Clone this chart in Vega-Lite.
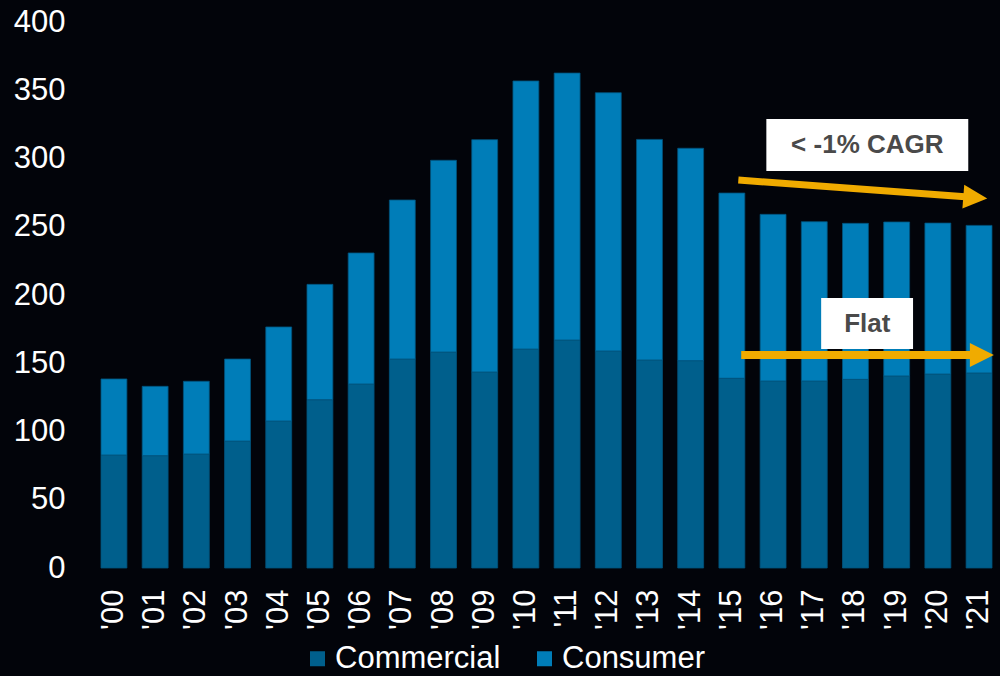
{
  "$schema": "https://vega.github.io/schema/vega-lite/v6.json",
  "width": 907,
  "height": 546,
  "autosize": "none",
  "padding": {"left": 93, "top": 22, "right": 0, "bottom": 108},
  "background": "#02040a",
  "config": {"view": {"stroke": null}, "font": "Liberation Sans"},
  "datasets": {
    "bars": [
      {"year": "'00", "type": "Commercial", "value": 82.8}, {"year": "'00", "type": "Consumer", "value": 55.7},
      {"year": "'01", "type": "Commercial", "value": 82.3}, {"year": "'01", "type": "Consumer", "value": 50.8},
      {"year": "'02", "type": "Commercial", "value": 83.5}, {"year": "'02", "type": "Consumer", "value": 53.3},
      {"year": "'03", "type": "Commercial", "value": 93.0}, {"year": "'03", "type": "Consumer", "value": 60.1},
      {"year": "'04", "type": "Commercial", "value": 107.7}, {"year": "'04", "type": "Consumer", "value": 68.9},
      {"year": "'05", "type": "Commercial", "value": 123.3}, {"year": "'05", "type": "Consumer", "value": 84.5},
      {"year": "'06", "type": "Commercial", "value": 134.8}, {"year": "'06", "type": "Consumer", "value": 96.0},
      {"year": "'07", "type": "Commercial", "value": 153.1}, {"year": "'07", "type": "Consumer", "value": 116.5},
      {"year": "'08", "type": "Commercial", "value": 158.2}, {"year": "'08", "type": "Consumer", "value": 140.5},
      {"year": "'09", "type": "Commercial", "value": 143.6}, {"year": "'09", "type": "Consumer", "value": 170.2},
      {"year": "'10", "type": "Commercial", "value": 160.4}, {"year": "'10", "type": "Consumer", "value": 196.4},
      {"year": "'11", "type": "Commercial", "value": 167.0}, {"year": "'11", "type": "Consumer", "value": 195.6},
      {"year": "'12", "type": "Commercial", "value": 159.0}, {"year": "'12", "type": "Consumer", "value": 189.2},
      {"year": "'13", "type": "Commercial", "value": 152.4}, {"year": "'13", "type": "Consumer", "value": 161.6},
      {"year": "'14", "type": "Commercial", "value": 151.9}, {"year": "'14", "type": "Consumer", "value": 155.6},
      {"year": "'15", "type": "Commercial", "value": 139.0}, {"year": "'15", "type": "Consumer", "value": 135.7},
      {"year": "'16", "type": "Commercial", "value": 137.0}, {"year": "'16", "type": "Consumer", "value": 122.1},
      {"year": "'17", "type": "Commercial", "value": 137.0}, {"year": "'17", "type": "Consumer", "value": 116.7},
      {"year": "'18", "type": "Commercial", "value": 138.2}, {"year": "'18", "type": "Consumer", "value": 114.3},
      {"year": "'19", "type": "Commercial", "value": 140.7}, {"year": "'19", "type": "Consumer", "value": 112.8},
      {"year": "'20", "type": "Commercial", "value": 142.1}, {"year": "'20", "type": "Consumer", "value": 110.6},
      {"year": "'21", "type": "Commercial", "value": 142.9}, {"year": "'21", "type": "Consumer", "value": 108.1}
    ],
    "boxes": [
      {"x": 15.83, "x2": 20.73, "y": 328.9, "y2": 290.8},
      {"x": 17.16, "x2": 19.39, "y": 197.8, "y2": 160.4}
    ],
    "labels": [
      {"x": 18.28, "y": 309.9, "label": "< -1% CAGR"},
      {"x": 18.28, "y": 179.1, "label": "Flat"}
    ],
    "arrows": [
      {"x": 15.15, "y": 284.2, "x2": 20.65, "y2": 272.0, "w": 7},
      {"x": 15.22, "y": 156.0, "x2": 20.78, "y2": 156.0, "w": 8}
    ],
    "heads": [
      {"x": 20.9, "y": 271.4, "angle": 4.4},
      {"x": 21.06, "y": 156.0, "angle": 0}
    ]
  },
  "layer": [
    {
      "data": {"name": "bars"},
      "mark": {"type": "bar", "stroke": "#00527c", "strokeWidth": 1, "strokeOpacity": 0.8},
      "encoding": {
        "x": {
          "field": "year", "type": "nominal", "sort": null,
          "scale": {"paddingInner": 0.371, "paddingOuter": 0.194},
          "axis": {
            "title": null, "labelAngle": -90, "labelFontSize": 31, "labelColor": "#ffffff",
            "labelPadding": 21, "ticks": false, "tickSize": 0, "domain": false, "grid": false
          }
        },
        "y": {
          "field": "value", "type": "quantitative", "aggregate": "sum", "stack": "zero",
          "scale": {"domain": [0, 400], "nice": false},
          "axis": {
            "title": null, "values": [0, 50, 100, 150, 200, 250, 300, 350, 400],
            "labelFontSize": 31, "labelColor": "#ffffff", "labelPadding": 28,
            "ticks": false, "tickSize": 0, "domain": false, "grid": false
          }
        },
        "color": {
          "field": "type", "type": "nominal",
          "scale": {"domain": ["Commercial", "Consumer"], "range": ["#005f8c", "#007db8"]},
          "legend": {
            "title": null, "orient": "none", "direction": "horizontal",
            "legendX": 209, "legendY": 621, "padding": 0,
            "symbolType": "square", "symbolSize": 225, "symbolStrokeWidth": 0,
            "labelFontSize": 31, "labelColor": "#ffffff", "labelOffset": 2, "labelLimit": 0,
            "columnPadding": 28
          }
        },
        "order": {"field": "type", "sort": "ascending"}
      }
    },
    {
      "data": {"name": "arrows"},
      "mark": {"type": "rule", "color": "#f0ab00"},
      "encoding": {
        "x": {"field": "x", "type": "quantitative", "scale": {"domain": [-0.51, 21.5], "nice": false, "zero": false}, "axis": null},
        "x2": {"field": "x2"},
        "y": {"field": "y", "type": "quantitative"},
        "y2": {"field": "y2"},
        "strokeWidth": {"field": "w", "type": "quantitative", "scale": null, "legend": null}
      }
    },
    {
      "data": {"name": "heads"},
      "mark": {"type": "point", "shape": "M -1 -1 L 1 0 L -1 1 Z", "filled": true, "color": "#f0ab00", "opacity": 1, "size": 576, "strokeWidth": 0},
      "encoding": {
        "x": {"field": "x", "type": "quantitative", "scale": {"domain": [-0.51, 21.5], "nice": false, "zero": false}, "axis": null},
        "y": {"field": "y", "type": "quantitative"},
        "angle": {"field": "angle", "type": "quantitative", "scale": null, "legend": null}
      }
    },
    {
      "data": {"name": "boxes"},
      "mark": {"type": "rect", "color": "#ffffff"},
      "encoding": {
        "x": {"field": "x", "type": "quantitative", "scale": {"domain": [-0.51, 21.5], "nice": false, "zero": false}, "axis": null},
        "x2": {"field": "x2"},
        "y": {"field": "y", "type": "quantitative"},
        "y2": {"field": "y2"}
      }
    },
    {
      "data": {"name": "labels"},
      "mark": {"type": "text", "fontSize": 26, "fontWeight": "bold", "color": "#4a4a4a", "align": "center", "baseline": "middle"},
      "encoding": {
        "x": {"field": "x", "type": "quantitative", "scale": {"domain": [-0.51, 21.5], "nice": false, "zero": false}, "axis": null},
        "y": {"field": "y", "type": "quantitative"},
        "text": {"field": "label"}
      }
    }
  ],
  "resolve": {"scale": {"x": "independent"}}
}
